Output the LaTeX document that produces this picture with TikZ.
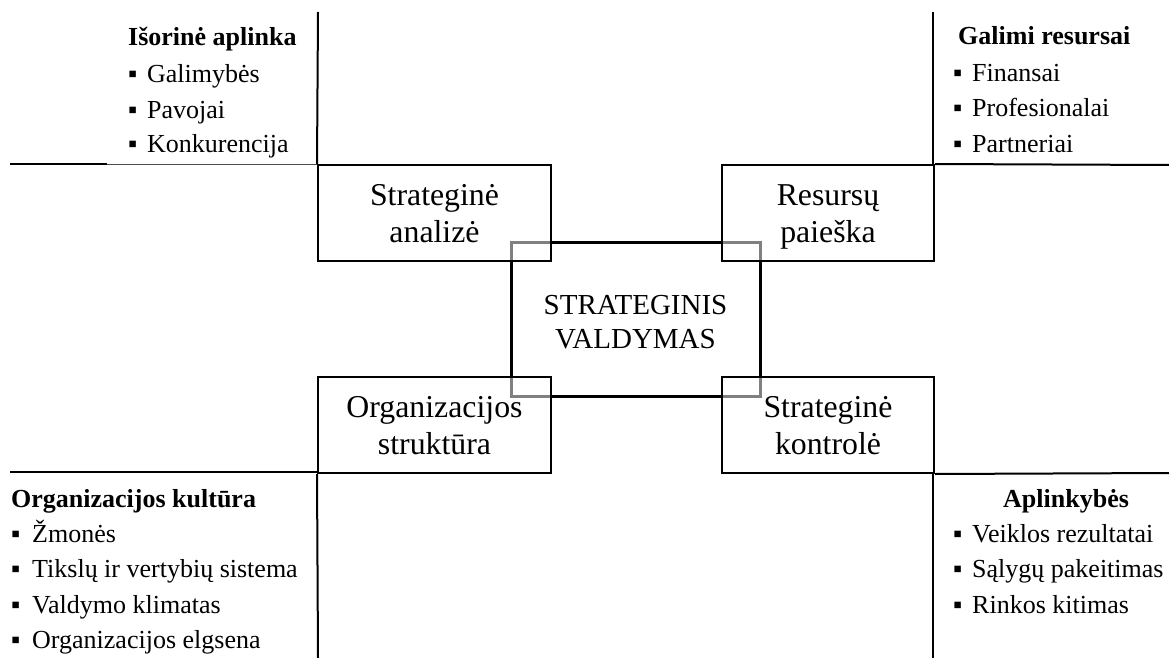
\documentclass[tikz,border=0pt]{standalone}
\usepackage{fontspec}
\setmainfont{Liberation Serif}
\newcommand\listfont{\fontsize{26}{35}\selectfont}
\newcommand\headfont{\fontsize{26}{35}\selectfont\bfseries}
\newcommand\boxfont{\fontsize{31.8}{37}\selectfont}
\newcommand\corefont{\fontsize{29}{34}\selectfont}
\newcommand\blt[1][19pt]{\makebox[#1][l]{▪}}
\begin{document}
\begin{tikzpicture}[x=1pt,y=-1pt,
  rule/.style={draw=black, line width=2pt},
  hair/.style={draw=black!70, line width=0.8pt},
  box/.style={draw=black, line width=2pt, fill=white, fill opacity=0.5,
    text opacity=1, inner sep=0pt, align=center, font=\boxfont,
    minimum height=96pt, text height=58.6pt, text depth=0pt},
  core/.style={draw=black, line width=3pt, inner sep=0pt, align=center,
    font=\corefont, minimum width=249pt, minimum height=154pt,
    text height=58pt, text depth=0pt},
  item/.style={anchor=base west, inner sep=0pt, font=\listfont},
  head/.style={anchor=base west, inner sep=0pt, font=\headfont}]

\useasboundingbox (0,0) rectangle (1169,658);

% central block
\node[core] (sv) at (635.5,319) {STRATEGINIS\\VALDYMAS};

% four corner blocks, half-transparent so the central frame shows grey beneath
\node[box, minimum width=233pt] (an) at (434.5,213) {Strateginė\\analizė};
\node[box, minimum width=212pt] (rp) at (828,213) {Resursų\\paieška};
\node[box, minimum width=233pt] (os) at (434.5,425) {Organizacijos\\struktūra};
\node[box, minimum width=212pt] (sk) at (828,425) {Strateginė\\kontrolė};

% dividing axes
\coordinate (tlTop) at (318,12);
\coordinate (tlL) at (10,164);
\coordinate (tlM) at (107,164);
\coordinate (trTop) at (933,12);
\coordinate (trR) at (1169,165);
\coordinate (blL) at (10,472);
\coordinate (blB) at (318,658);
\coordinate (brR) at (1169,473);
\coordinate (brB) at (933,658);

\draw[rule] (tlTop) -- (an.north west);
\draw[rule] (tlL) -- (tlM);
\draw[hair] (tlM) -- (tlM -| an.west);
\draw[rule] (trTop) -- (trTop |- rp.north);
\draw[rule] (rp.north east) -- (trR);
\draw[rule] (blL) -- (blL -| os.west);
\draw[rule] (os.south west) -- (blB);
\draw[rule] (sk.south east) -- (brR);
\draw[rule] (brB |- sk.south) -- (brB);

% external environment
\node[head] (h1) at (128,46) {Išorinė aplinka};
\node[item] (h1a) at (128,83) {\blt Galimybės};
\node[item] (h1b) at (128,118) {\blt Pavojai};
\node[item] (h1c) at (128,152) {\blt Konkurencija};

% available resources
\node[head] (h2) at (958,45) {Galimi resursai};
\node[item] (h2a) at (953,82) {\blt Finansai};
\node[item] (h2b) at (953,117) {\blt Profesionalai};
\node[item] (h2c) at (953,152) {\blt Partneriai};

% organisational culture
\node[head] (h3) at (11,507) {Organizacijos kultūra};
\node[item] (h3a) at (11,542) {\blt[21pt]Žmonės};
\node[item] (h3b) at (11,577) {\blt[21pt]Tikslų ir vertybių sistema};
\node[item] (h3c) at (11,613) {\blt[21pt]Valdymo klimatas};
\node[item] (h3d) at (11,648) {\blt[21pt]Organizacijos elgsena};

% circumstances
\node[head] (h4) at (1003,507) {Aplinkybės};
\node[item] (h4a) at (953,542) {\blt Veiklos rezultatai};
\node[item] (h4b) at (953,577) {\blt Sąlygų pakeitimas};
\node[item] (h4c) at (953,613) {\blt Rinkos kitimas};
\end{tikzpicture}
\end{document}
